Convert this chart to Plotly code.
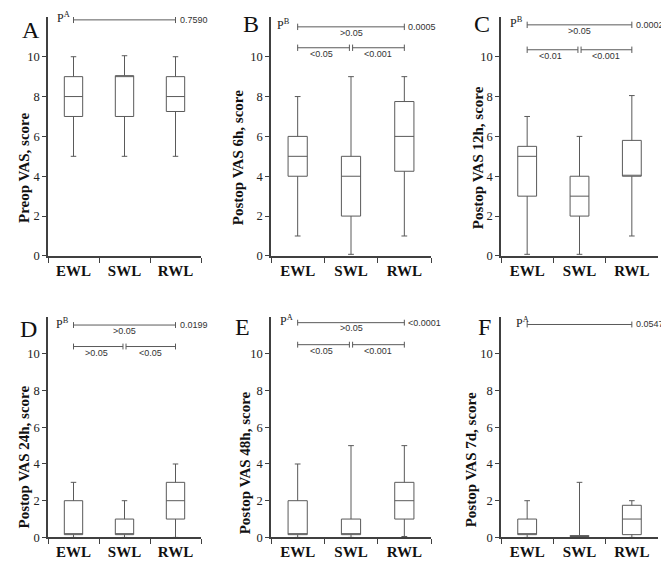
import plotly.graph_objects as go

categories = ["EWL", "SWL", "RWL"]
panel_letters = ["A", "B", "C", "D", "E", "F"]
y_titles = ["Preop VAS, score", "Postop VAS 6h, score", "Postop VAS 12h, score",
            "Postop VAS 24h, score", "Postop VAS 48h, score", "Postop VAS 7d, score"]
y_ticks = [0, 2, 4, 6, 8, 10]

# box statistics per panel (EWL, SWL, RWL)
a_lower = [5, 5, 5];       a_q1 = [7, 7, 7.25];     a_median = [8, 9, 8];      a_q3 = [9, 9.05, 9];   a_upper = [10, 10.05, 10]
b_lower = [1, 0.08, 1];    b_q1 = [4, 2, 4.25];     b_median = [5, 4, 6];      b_q3 = [6, 5, 7.75];   b_upper = [8, 9, 9]
c_lower = [0.08, 0.08, 1]; c_q1 = [3, 2, 4];        c_median = [5, 3, 4.05];   c_q3 = [5.5, 4, 5.8];  c_upper = [7, 6, 8.05]
d_lower = [0, 0, 0];       d_q1 = [0.15, 0.15, 1];  d_median = [0.15, 0.15, 2]; d_q3 = [2, 1, 3];    d_upper = [3, 2, 4]
e_lower = [0, 0, 0.05];    e_q1 = [0.15, 0.15, 1];  e_median = [0.15, 0.15, 2]; e_q3 = [2, 1, 3];    e_upper = [4, 5, 5]
f_lower = [0, 0, 0];       f_q1 = [0.15, 0.05, 0.15]; f_median = [0.15, 0.05, 1]; f_q3 = [1, 0.1, 1.75]; f_upper = [2, 3, 2]

# significance labels
p_group = ["A", "B", "B", "B", "A", "A"]
p_overall = ["0.7590", "0.0005", "0.0002", "0.0199", "<0.0001", "0.0547"]
p_ewl_rwl = [None, ">0.05", ">0.05", ">0.05", ">0.05", None]
p_ewl_swl = [None, "<0.05", "<0.01", ">0.05", "<0.05", None]
p_swl_rwl = [None, "<0.001", "<0.001", "<0.05", "<0.001", None]

stats = [
    (a_lower, a_q1, a_median, a_q3, a_upper),
    (b_lower, b_q1, b_median, b_q3, b_upper),
    (c_lower, c_q1, c_median, c_q3, c_upper),
    (d_lower, d_q1, d_median, d_q3, d_upper),
    (e_lower, e_q1, e_median, e_q3, e_upper),
    (f_lower, f_q1, f_median, f_q3, f_upper),
]

W, H = 669, 569
col_px = [(40, 193), (263, 423), (493, 650)]
row_px = [(9, 251), (313, 536)]
top_bracket_y = [11.85, 11.5, 11.6, 11.57, 11.7, 11.6]
low_bracket_y = [None, 10.45, 10.35, 10.4, 10.5, None]
p_x = [-0.36, -0.42, -0.36, -0.38, -0.36, -0.26]
title_px = [(16, 162), (230, 151), (470, 151), (16, 455), (237, 461), (463, 458)]
letter_px = [(23, 22), (243, 16), (474, 16), (20, 325), (234, 323), (477, 323)]

SERIF = "Liberation Serif, Times New Roman, serif"
SANS = "Liberation Sans, Arial, sans-serif"
LINE = "#5a5a5a"
AX = "#404040"


def px_x(v):
    return v / W


def px_y(v):
    return 1 - v / H


fig = go.Figure()
layout = dict(width=W, height=H, margin=dict(l=0, r=0, t=0, b=0),
              paper_bgcolor="white", plot_bgcolor="white", showlegend=False)
shapes = []
annotations = []


def cap(xa, ya, x, y, h=0.16):
    shapes.append(dict(type="line", xref=xa, yref=ya, x0=x, x1=x, y0=y - h, y1=y + h,
                       line=dict(color=LINE, width=1)))


def bracket(xa, ya, x0, x1, y):
    shapes.append(dict(type="line", xref=xa, yref=ya, x0=x0, x1=x1, y0=y, y1=y,
                       line=dict(color=LINE, width=1)))
    cap(xa, ya, x0, y)
    cap(xa, ya, x1, y)


for i in range(6):
    r, c = divmod(i, 3)
    n = i + 1
    xa = "x" if n == 1 else f"x{n}"
    ya = "y" if n == 1 else f"y{n}"
    xk = "xaxis" if n == 1 else f"xaxis{n}"
    yk = "yaxis" if n == 1 else f"yaxis{n}"
    lo, q1, med, q3, hi = stats[i]
    fig.add_trace(go.Box(x=categories, lowerfence=lo, q1=q1, median=med, q3=q3, upperfence=hi,
                         xaxis=xa, yaxis=ya, width=0.36, whiskerwidth=0.3,
                         fillcolor="white", line=dict(color=LINE, width=1),
                         boxpoints=False, hoverinfo="skip"))
    x0p, x1p = col_px[c]
    y0p, y1p = row_px[r]
    layout[xk] = dict(domain=[px_x(x0p), px_x(x1p)], anchor=ya, type="category",
                      range=[-0.5, 2.5], showline=True, linecolor=AX, linewidth=1.6,
                      ticks="outside", ticklen=5, tickcolor=AX, tickson="boundaries",
                      showgrid=False, zeroline=False,
                      tickfont=dict(family=SERIF, size=15, color="#111", weight="bold"))
    layout[yk] = dict(domain=[px_y(y1p), px_y(y0p)], anchor=xa, range=[0, 12],
                      showline=True, linecolor=AX, linewidth=1.6, ticks="outside",
                      ticklen=4, tickcolor=AX, tickvals=y_ticks, showgrid=False,
                      zeroline=False, tickfont=dict(family=SERIF, size=12.5, color="#222"))

    # y title
    tx, ty = title_px[i]
    annotations.append(dict(xref="paper", yref="paper", x=px_x(tx), y=px_y(ty),
                            text=f"<b>{y_titles[i]}</b>", textangle=-90, showarrow=False,
                            font=dict(family=SERIF, size=15, color="#111"),
                            xanchor="center", yanchor="middle"))
    # panel letter
    lx, ly = letter_px[i]
    annotations.append(dict(xref="paper", yref="paper", x=px_x(lx), y=px_y(ly),
                            text=panel_letters[i], showarrow=False,
                            font=dict(family=SERIF, size=24, color="#111"),
                            xanchor="center", yanchor="middle"))
    # P label
    ty_top = top_bracket_y[i]
    annotations.append(dict(xref=xa, yref=ya, x=p_x[i], y=ty_top + 0.1,
                            text=f"P<sup>{p_group[i]}</sup>", showarrow=False,
                            font=dict(family=SERIF, size=12, color="#222"),
                            xanchor="left", yanchor="middle"))
    bracket(xa, ya, 0, 2, ty_top)
    annotations.append(dict(xref=xa, yref=ya, x=2.04, y=ty_top, text=p_overall[i],
                            showarrow=False, font=dict(family=SANS, size=9, color="#333"),
                            xanchor="left", yanchor="middle"))
    if p_ewl_rwl[i] is not None:
        annotations.append(dict(xref=xa, yref=ya, x=1, y=ty_top - 0.3, text=p_ewl_rwl[i],
                                showarrow=False, font=dict(family=SANS, size=9, color="#333"),
                                xanchor="center", yanchor="middle"))
        ly_low = low_bracket_y[i]
        bracket(xa, ya, 0, 0.97, ly_low)
        bracket(xa, ya, 1.03, 2, ly_low)
        annotations.append(dict(xref=xa, yref=ya, x=0.45, y=ly_low - 0.33, text=p_ewl_swl[i],
                                showarrow=False, font=dict(family=SANS, size=9, color="#333"),
                                xanchor="center", yanchor="middle"))
        annotations.append(dict(xref=xa, yref=ya, x=1.5, y=ly_low - 0.33, text=p_swl_rwl[i],
                                showarrow=False, font=dict(family=SANS, size=9, color="#333"),
                                xanchor="center", yanchor="middle"))

layout["shapes"] = shapes
layout["annotations"] = annotations
fig.update_layout(**layout)
fig.write_html("out.html")
